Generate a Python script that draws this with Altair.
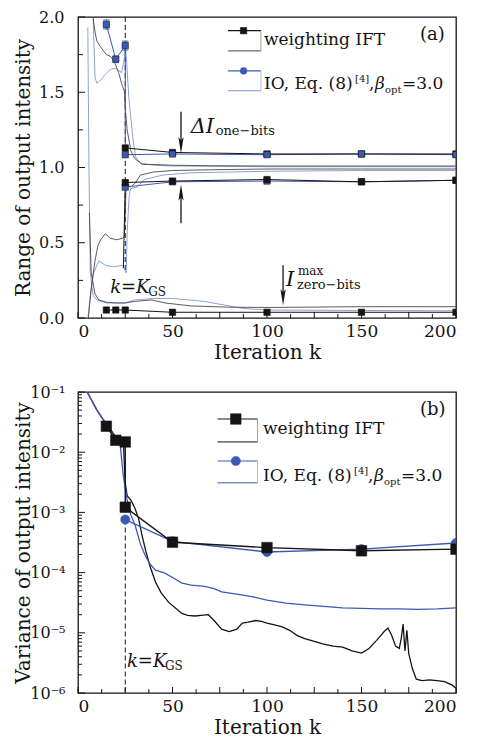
import altair as alt
import pandas as pd

FONT = "DejaVu Serif"
BLACK = "#141414"
GREY = "#4a4a4a"
BLUE = "#3a5ab4"
LBLUE = "#7f97d3"
W, H = 378, 301

# ---------------- panel (a): range of output intensity ----------------
a_bt_up_k = [8, 9, 10, 12, 15, 17, 19, 21.5, 23.5, 24.5, 25, 26, 28, 30, 34, 40, 50, 70, 100, 150, 200]
a_bt_up_v = [2.0, 1.9, 1.84, 1.8, 1.75, 1.74, 1.71, 1.63, 1.54, 1.51, 1.4, 1.25, 1.11, 1.06, 1.02, 1.02, 1.015, 1.012, 1.01, 1.01, 1.01]
a_bt_lo_k = [5.5, 7, 9, 10.5, 12, 14.5, 17, 20.5, 23.5, 24.5, 25, 25.5, 28, 30.5, 33, 40, 50, 70, 100, 150, 200]
a_bt_lo_v = [0.0, 0.2, 0.38, 0.48, 0.52, 0.56, 0.53, 0.52, 0.53, 0.54, 0.7, 0.89, 0.87, 0.9, 0.95, 0.97, 0.98, 0.985, 0.99, 0.99, 0.99]
a_bt_z_k = [6, 7, 9, 11, 15, 20, 25, 30, 39, 46, 60, 80, 100, 150, 200]
a_bt_z_v = [0.7, 0.3, 0.16, 0.12, 0.105, 0.1, 0.1, 0.11, 0.12, 0.1, 0.08, 0.072, 0.07, 0.075, 0.075]
a_bl_up_k = [8, 9, 10, 12, 14.5, 17, 19, 21, 23, 24.5, 25.2, 27, 29, 30.5, 33, 40, 50, 70, 100, 150, 200]
a_bl_up_v = [2.0, 1.6, 1.56, 1.58, 1.62, 1.65, 1.66, 1.65, 1.63, 1.72, 1.8, 1.45, 1.2, 1.07, 1.03, 1.015, 1.01, 1.008, 1.005, 1.005, 1.005]
a_bl_lo_k = [5.3, 6.5, 8.3, 11, 14.5, 19, 23.4, 24.5, 25.5, 26, 27, 27.8, 31.4, 35, 45, 60, 100, 150, 200]
a_bl_lo_v = [0.0, 0.15, 0.3, 0.38, 0.35, 0.34, 0.35, 0.33, 0.3, 0.56, 0.8, 0.86, 0.87, 0.92, 0.95, 0.965, 0.975, 0.98, 0.98]
a_bl_z_k = [5.2, 5.8, 6.5, 8, 10, 15, 20, 25, 30, 40, 50, 67, 87, 100, 150, 200]
a_bl_z_v = [1.93, 1.0, 0.3, 0.15, 0.12, 0.1, 0.1, 0.1, 0.12, 0.13, 0.13, 0.11, 0.064, 0.053, 0.05, 0.048]

a_bm_up_k = [25, 50, 100, 150, 200]
a_bm_up_v = [1.13, 1.10, 1.09, 1.09, 1.09]
a_bm_lo_k = [24, 25, 50, 100, 150, 200]
a_bm_lo_v = [0.33, 0.90, 0.91, 0.92, 0.905, 0.915]
a_bm_z_k = [15, 20, 25, 50, 100, 150, 200]
a_bm_z_v = [0.053, 0.053, 0.053, 0.038, 0.038, 0.038, 0.038]
a_lm_up_k = [15, 20, 25, 25, 50, 100, 150, 200]
a_lm_up_v = [1.95, 1.72, 1.81, 1.085, 1.09, 1.085, 1.09, 1.085]
a_lm_lo_k = [25, 50, 100, 150, 200]
a_lm_lo_v = [0.87, 0.905, 0.91, 0.905, 0.915]
a_err_k = [15, 20, 25]
a_err_lo = [1.92, 1.70, 1.78]
a_err_hi = [1.98, 1.74, 1.84]

# ---------------- panel (b): variance of output intensity ----------------
b_bt_k = [3, 5, 7, 10, 13, 16, 18, 20, 22, 24, 25, 26, 28, 30, 32, 34, 36, 38, 41, 44, 48, 52, 55, 58, 62,
          65, 69, 72, 76, 80, 84, 87, 90, 94, 97, 100, 104, 108, 112, 116, 120, 125, 130, 135, 140, 145,
          150, 154, 158, 162, 164, 166, 168, 170, 171, 172, 173, 174, 175, 177, 179, 182, 186, 190, 194, 198, 200]
b_bt_v = [0.13, 0.098, 0.075, 0.05, 0.036, 0.027, 0.022, 0.018, 0.016, 0.0145, 0.003, 0.0019, 0.0016, 0.0012,
          0.0008, 0.0004, 0.00022, 0.00013, 7e-5, 4.6e-5, 3.2e-5, 2.5e-5, 2.1e-5, 1.95e-5, 1.9e-5,
          1.95e-5, 2.0e-5, 1.6e-5, 1.15e-5, 1.05e-5, 1.15e-5, 1.45e-5, 1.5e-5, 1.6e-5, 1.55e-5, 1.45e-5,
          1.35e-5, 1.25e-5, 1.1e-5, 9e-6, 8e-6, 7.2e-6, 6.5e-6, 6e-6, 5.8e-6, 5e-6,
          4.6e-6, 5.5e-6, 7.5e-6, 1.05e-5, 1.2e-5, 9e-6, 6e-6, 5.5e-6, 8e-6, 1.4e-5, 5e-6, 1.1e-5, 4.5e-6,
          2.5e-6, 1.7e-6, 1.6e-6, 1.65e-6, 1.6e-6, 1.55e-6, 1.35e-6, 1.2e-6]
b_bl_k = [3, 5, 7, 10, 13, 16, 18, 20, 21, 22.3, 23, 24, 26, 28, 30.3, 33, 35.6, 38, 41, 46, 50, 55, 60,
          67, 72, 76, 84, 92, 100, 110, 120, 130, 140, 150, 160, 170, 180, 190, 200]
b_bl_v = [0.13, 0.098, 0.075, 0.05, 0.036, 0.027, 0.021, 0.017, 0.016, 0.014, 0.008, 0.004, 0.0016, 0.0009,
          0.0006, 0.0003, 0.00019, 0.00014, 0.00011, 9.8e-5, 8.3e-5, 6.7e-5, 6.2e-5,
          5.9e-5, 5.4e-5, 4.8e-5, 4.4e-5, 4.0e-5, 3.5e-5, 3.1e-5, 2.9e-5, 2.75e-5, 2.6e-5, 2.55e-5,
          2.5e-5, 2.5e-5, 2.45e-5, 2.5e-5, 2.6e-5]
b_bm_k = [15, 20, 25, 25, 50, 100, 150, 200]
b_bm_v = [0.027, 0.0158, 0.0148, 0.00122, 3.2e-4, 2.6e-4, 2.3e-4, 2.45e-4]
b_lm_k = [25, 50, 100, 150, 200]
b_lm_v = [7.6e-4, 3.3e-4, 2.2e-4, 2.45e-4, 3.1e-4]

x_major = [0, 25, 50, 75, 100, 125, 150, 175, 200]
x_minor = [12.5, 37.5, 62.5, 87.5, 112.5, 137.5, 162.5, 187.5]
a_y_major = [0, 0.5, 1.0, 1.5, 2.0]
a_y_minor = [0.25, 0.75, 1.25, 1.75]
b_y_major = [1e-6, 1e-5, 1e-4, 1e-3, 1e-2, 1e-1]
b_y_minor = [m * 10.0 ** e for e in range(-6, -1) for m in range(2, 10)]


def ser(name, ks, vs):
    return pd.DataFrame({"k": ks, "v": vs, "s": name, "i": list(range(len(ks)))})


X_SCALE = alt.Scale(domain=[0, 200], nice=False, zero=False)
x_axis = alt.Axis(values=[0, 50, 100, 150, 200], title="Iteration k", labelPadding=5,
                  titlePadding=3, labelFontSize=17)
X = alt.X("k:Q", scale=X_SCALE, axis=x_axis)

YA_SCALE = alt.Scale(domain=[0, 2], nice=False, zero=False)
Ya = alt.Y("v:Q", scale=YA_SCALE,
           axis=alt.Axis(values=a_y_major, format=".1f", title="Range of output intensity",
                         labelPadding=14, minExtent=42, maxExtent=42, titlePadding=3))
log_lbl = ("datum.value < 3e-6 ? '10⁻⁶' : datum.value < 3e-5 ? '10⁻⁵' : datum.value < 3e-4 ? '10⁻⁴' : "
           "datum.value < 3e-3 ? '10⁻³' : datum.value < 3e-2 ? '10⁻²' : '10⁻¹'")
Yb = alt.Y("v:Q", scale=alt.Scale(type="log", domain=[1e-6, 1e-1], nice=False),
           axis=alt.Axis(values=b_y_major, labelExpr=log_lbl, title="Variance of output intensity",
                         labelPadding=13, minExtent=42, maxExtent=42, titlePadding=3))


def line(df, Y, color, width, dash=None):
    kw = dict(color=color, strokeWidth=width, clip=True)
    if dash:
        kw["strokeDash"] = dash
    return alt.Chart(df).mark_line(**kw).encode(x=X, y=Y, detail="s:N", order="i:Q")


def pts(df, Y, shape, fill, size, stroke=BLACK, sw=0.6):
    return alt.Chart(df).mark_point(shape=shape, filled=True, fill=fill, stroke=stroke, strokeWidth=sw,
                                    size=size, opacity=1, clip=True).encode(x=X, y=Y)


def txt(k, v, t, Y, size, style="normal", dx=0, dy=0, align="left"):
    return alt.Chart(pd.DataFrame({"k": [k], "v": [v], "t": [t]})).mark_text(
        font=FONT, fontSize=size, fontStyle=style, align=align, baseline="alphabetic",
        dx=dx, dy=dy, color=BLACK).encode(x=X, y=Y, text="t:N")


def hrule(k1, k2, v, Y, color, width):
    return alt.Chart(pd.DataFrame({"k": [k1], "k2": [k2], "v": [v]})).mark_rule(
        color=color, strokeWidth=width).encode(x=X, x2=alt.X2("k2:Q"), y=Y)


def vrule(k, v1, v2, Y, color, width, dash=None):
    kw = dict(color=color, strokeWidth=width)
    if dash:
        kw["strokeDash"] = dash
    return alt.Chart(pd.DataFrame({"k": [k], "v": [v1], "v2": [v2]})).mark_rule(**kw).encode(
        x=X, y=Y, y2=alt.Y2("v2:Q"))


def xticks(vals, length):
    return alt.Chart(pd.DataFrame({"k": vals})).mark_rule(color=BLACK, strokeWidth=1).encode(
        x=X, y=alt.value(H), y2=alt.value(H - length))


def yticks(vals, Y, length):
    return alt.Chart(pd.DataFrame({"v": vals})).mark_rule(color=BLACK, strokeWidth=1).encode(
        y=Y, x=alt.value(0), x2=alt.value(length))


ARROW_DOWN = "M0,1L-0.32,-1L0,-0.6L0.32,-1Z"
ARROW_UP = "M0,-1L-0.32,1L0,0.6L0.32,1Z"


def arrow(k, v1, v2, vh, Y, down=True):
    shaft = vrule(k, v1, v2, Y, BLACK, 1.3)
    head = alt.Chart(pd.DataFrame({"k": [k], "v": [vh]})).mark_point(
        shape=ARROW_DOWN if down else ARROW_UP, filled=True, color=BLACK, size=260, opacity=1).encode(x=X, y=Y)
    return [shaft, head]


def legend(Y, kl, kr, km, rows, tk, tv1, tv2, io_sizes, top):
    black_mk, black_ln, blue_mk, blue_ln = rows
    layers = [
        hrule(kl, kr, black_mk, Y, BLACK, 1.2),
        hrule(kl, kr, black_ln, Y, GREY if top else BLACK, 1.0),
        hrule(kl, kr, blue_mk, Y, BLUE, 1.2),
        hrule(kl, kr, blue_ln, Y, LBLUE if top else BLUE, 1.0),
        vrule(kr, black_mk, black_ln, Y, "#888888", 0.8),
        vrule(kr, blue_mk, blue_ln, Y, "#9fb0dd", 0.8),
        pts(pd.DataFrame({"k": [km], "v": [black_mk]}), Y, "square", BLACK, io_sizes[0]),
        pts(pd.DataFrame({"k": [km], "v": [blue_mk]}), Y, "circle", BLUE, io_sizes[1], stroke=BLUE),
        txt(tk, tv1, "weighting IFT", Y, 17),
        txt(tk, tv2, "IO, Eq. (8)", Y, 17),
        txt(tk, tv2, "[4]", Y, 10, dx=91, dy=-7),
        txt(tk, tv2, ",", Y, 17, dx=105),
        txt(tk, tv2, "β", Y, 17, style="italic", dx=111),
        txt(tk, tv2, "opt", Y, 10, dx=121, dy=4),
        txt(tk, tv2, "=3.0", Y, 17, dx=138),
    ]
    return layers


# ---------------- build panel (a) ----------------
thin_black_a = pd.concat([ser("u", a_bt_up_k, a_bt_up_v), ser("l", a_bt_lo_k, a_bt_lo_v),
                          ser("z", a_bt_z_k, a_bt_z_v)])
thin_blue_a = pd.concat([ser("u", a_bl_up_k, a_bl_up_v), ser("l", a_bl_lo_k, a_bl_lo_v),
                         ser("z", a_bl_z_k, a_bl_z_v)])
bm_up = ser("bu", a_bm_up_k, a_bm_up_v)
bm_lo = ser("bl", a_bm_lo_k, a_bm_lo_v)
bm_z = ser("bz", a_bm_z_k, a_bm_z_v)
lm_up = ser("lu", a_lm_up_k, a_lm_up_v)
lm_lo = ser("ll", a_lm_lo_k, a_lm_lo_v)
err_a = pd.DataFrame({"k": a_err_k, "v": a_err_lo, "v2": a_err_hi})

layers_a = [
    xticks(x_major, 6), xticks(x_minor, 4), yticks(a_y_major, Ya, 7), yticks(a_y_minor, Ya, 5),
    vrule(25, 2.0, 0.30, Ya, BLACK, 1.0, dash=[5, 3]),
    line(thin_blue_a, Ya, LBLUE, 0.9),
    line(thin_black_a, Ya, GREY, 0.9),
    line(pd.concat([lm_up, lm_lo]), Ya, BLUE, 1.0),
    line(pd.concat([bm_up, bm_lo, bm_z]), Ya, BLACK, 1.0),
    alt.Chart(err_a).mark_rule(color=BLUE, strokeWidth=1).encode(x=X, y=Ya, y2=alt.Y2("v2:Q")),
    alt.Chart(err_a).mark_point(shape="stroke", color=BLUE, size=40, strokeWidth=1, opacity=1).encode(x=X, y=Ya),
    alt.Chart(err_a).mark_point(shape="stroke", color=BLUE, size=40, strokeWidth=1, opacity=1).encode(
        x=X, y=alt.Y("v2:Q", scale=YA_SCALE)),
    pts(bm_up, Ya, "square", BLACK, 40),
    pts(lm_up, Ya, "square", BLUE, 40),
    pts(lm_lo, Ya, "square", BLUE, 40),
    pts(bm_lo.iloc[1:], Ya, "square", BLACK, 40),
    pts(bm_z, Ya, "square", BLACK, 40),
    txt(17.0, 0.166, "k=K", Ya, 18, style="italic"),
    txt(17.0, 0.166, "GS", Ya, 12, dx=38, dy=3),
    txt(59.6, 1.232, "ΔI", Ya, 21, style="italic"),
    txt(59.6, 1.232, "one−bits", Ya, 13, dx=25, dy=2),
    txt(110.0, 0.21, "I", Ya, 21, style="italic"),
    txt(110.0, 0.21, "max", Ya, 12, dx=12, dy=-11),
    txt(110.0, 0.21, "zero−bits", Ya, 13, dx=11, dy=3),
    txt(180.9, 1.848, "(a)", Ya, 18),
] + arrow(54.5, 1.37, 1.16, 1.147, Ya, True) + arrow(54.5, 0.63, 0.82, 0.834, Ya, False) \
  + arrow(108.5, 0.35, 0.15, 0.137, Ya, True) \
  + legend(Ya, 79.3, 96.8, 87.6, [1.909, 1.775, 1.642, 1.51], 98.4, 1.815, 1.523, (40, 45), True)

panel_a = alt.layer(*layers_a).properties(width=W, height=H)

# ---------------- build panel (b) ----------------
layers_b = [
    xticks(x_major, 6), xticks(x_minor, 4), yticks(b_y_major, Yb, 7), yticks(b_y_minor, Yb, 4),
    vrule(25, 7.6e-4, 1e-6, Yb, BLACK, 1.0, dash=[5, 3]),
    line(ser("bt", b_bt_k, b_bt_v), Yb, BLACK, 1.3),
    line(ser("bl", b_bl_k, b_bl_v), Yb, BLUE, 1.3),
    line(ser("lm", b_lm_k, b_lm_v), Yb, BLUE, 1.4),
    line(ser("bm", b_bm_k, b_bm_v), Yb, BLACK, 1.4),
    pts(ser("lm", b_lm_k, b_lm_v), Yb, "circle", BLUE, 85, stroke=BLUE),
    pts(ser("bm", b_bm_k, b_bm_v), Yb, "square", BLACK, 110),
    txt(25.9, 2.7e-6, "k=K", Yb, 18, style="italic"),
    txt(25.9, 2.7e-6, "GS", Yb, 12, dx=38, dy=3),
    txt(180.9, 0.0415, "(b)", Yb, 18),
] + legend(Yb, 73.8, 95.0, 83.5, [0.0356, 0.0148, 0.00714, 0.0031], 97.9, 0.020, 0.00333, (110, 85), False)

panel_b = alt.layer(*layers_b).properties(width=W, height=H)

chart = alt.vconcat(panel_a, panel_b, spacing=74, bounds="flush").properties(
    padding={"left": 4, "top": 0, "right": 2, "bottom": 2}
).configure_view(stroke=BLACK, strokeWidth=1.3).configure_axis(
    labelFont=FONT, titleFont=FONT, labelColor=BLACK, titleColor=BLACK, grid=False, domain=False,
    ticks=False, tickSize=0, labelFontSize=16, titleFontSize=20, titleFontWeight="normal"
)

chart.save("out.html", embed_options={"renderer": "svg", "actions": False})
